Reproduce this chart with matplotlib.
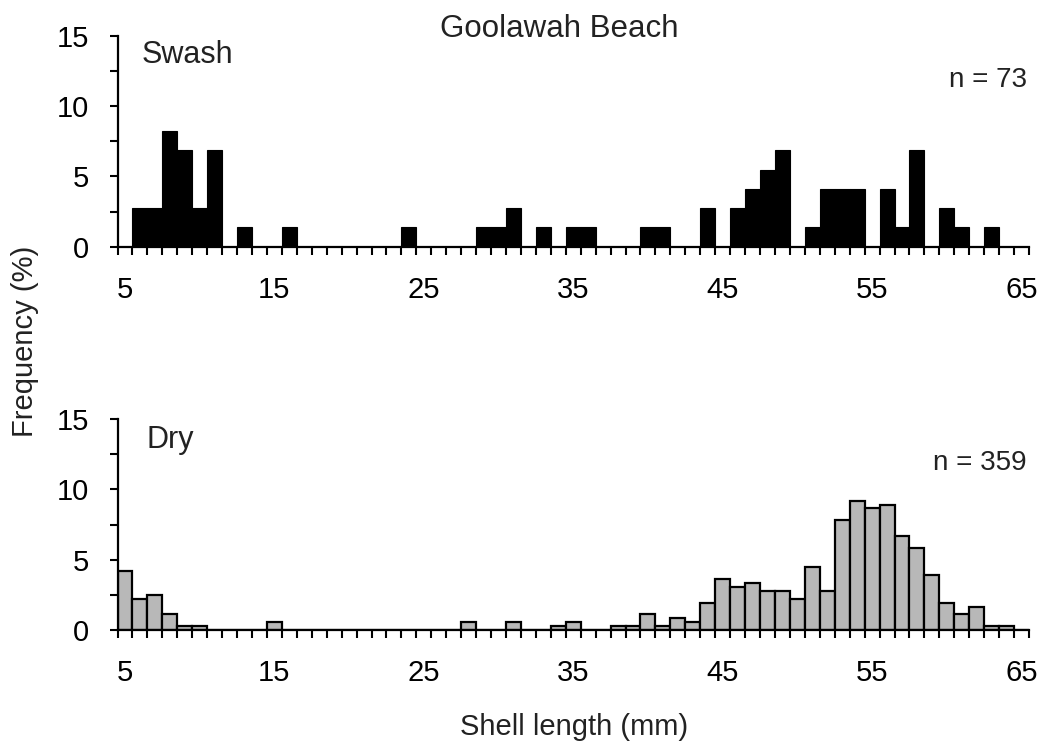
import matplotlib
matplotlib.use("Agg")
import matplotlib.pyplot as plt
from matplotlib.ticker import FixedLocator

plt.rcParams['font.family'] = ['Liberation Sans', 'DejaVu Sans']

# ---- data -------------------------------------------------------------
categories = list(range(5, 66))  # shell length classes (mm)

swash_pct = [
    0, 2.74, 2.74, 8.22, 6.85, 2.74, 6.85, 0, 1.37, 0,       # 5-14
    0, 1.37, 0, 0, 0, 0, 0, 0, 0, 1.37,                     # 15-24
    0, 0, 0, 0, 1.37, 1.37, 2.74, 0, 1.37, 0,               # 25-34
    1.37, 1.37, 0, 0, 0, 1.37, 1.37, 0, 0, 2.74,            # 35-44
    0, 2.74, 4.11, 5.48, 6.85, 0, 1.37, 4.11, 4.11, 4.11,   # 45-54
    0, 4.11, 1.37, 6.85, 0, 2.74, 1.37, 0, 1.37, 0,         # 55-64
    0,                                                      # 65
]

dry_pct = [
    4.18, 2.23, 2.51, 1.11, 0.28, 0.28, 0, 0, 0, 0,         # 5-14
    0.56, 0, 0, 0, 0, 0, 0, 0, 0, 0,                        # 15-24
    0, 0, 0, 0.56, 0, 0, 0.56, 0, 0, 0.28,                  # 25-34
    0.56, 0, 0, 0.28, 0.28, 1.11, 0.28, 0.84, 0.56, 1.95,   # 35-44
    3.62, 3.06, 3.34, 2.79, 2.79, 2.23, 4.46, 2.79, 7.80, 9.19,  # 45-54
    8.64, 8.91, 6.69, 5.85, 3.90, 1.95, 1.11, 1.67, 0.28, 0.28,  # 55-64
    0,                                                      # 65
]

x_labels = [5, 15, 25, 35, 45, 55, 65]
y_major = [0, 5, 10, 15]

title = "Goolawah Beach"
panel_names = ["Swash", "Dry"]
n_labels = ["n = 73", "n = 359"]
ylabel = "Frequency (%)"
xlabel = "Shell length (mm)"

# ---- figure -----------------------------------------------------------
W, H = 1045, 744
fig = plt.figure(figsize=(W / 100, H / 100), dpi=100)

left = 117.5 / W
right = 1029 / W
ax_top = fig.add_axes([left, 1 - 246.7 / H, right - left, (246.7 - 35.6) / H])
ax_bot = fig.add_axes([left, 1 - 630 / H, right - left, (630 - 419) / H])

txt_color = '#222222'

def style(ax):
    ax.set_xlim(categories[0] - 0.5, categories[-1] + 0.5)
    ax.set_ylim(0, 15)
    for s in ['top', 'right']:
        ax.spines[s].set_visible(False)
    for s in ['left', 'bottom']:
        ax.spines[s].set_linewidth(1.6)
        ax.spines[s].set_color('black')
    # x: labels centred on classes, ticks at class boundaries
    ax.xaxis.set_major_locator(FixedLocator(x_labels))
    ax.set_xticklabels([str(v) for v in x_labels])
    ax.xaxis.set_minor_locator(FixedLocator([c - 0.5 for c in categories] + [categories[-1] + 0.5]))
    ax.tick_params(axis='x', which='major', length=0, pad=21, labelsize=21, labelcolor='black')
    ax.tick_params(axis='x', which='minor', length=5.8, width=1.5, direction='out', color='black')
    # y
    ax.yaxis.set_major_locator(FixedLocator(y_major))
    ax.yaxis.set_minor_locator(FixedLocator([2.5, 7.5, 12.5]))
    ax.tick_params(axis='y', which='major', length=5.8, width=1.5, pad=14.5, labelsize=21,
                   labelcolor='black', direction='out')
    ax.tick_params(axis='y', which='minor', length=5.8, width=1.5, direction='out')

ax_top.bar(categories, swash_pct, width=1.0, color='black', edgecolor='black', linewidth=0.8, zorder=2)
ax_bot.bar(categories, dry_pct, width=1.0, color='#b8b8b8', edgecolor='black', linewidth=1.6, zorder=2)

style(ax_top)
style(ax_bot)

def fx(px):
    return px / W

def fy(py):
    return 1 - py / H

fig.text(fx(559), fy(36.7), title, ha='center', va='baseline', fontsize=22.5, color=txt_color)
fig.text(fx(142), fy(63.3), panel_names[0], ha='left', va='baseline', fontsize=22, color=txt_color)
fig.text(fx(1027), fy(86.7), n_labels[0], ha='right', va='baseline', fontsize=20, color=txt_color)
fig.text(fx(146.7), fy(448.3), panel_names[1], ha='left', va='baseline', fontsize=22, color=txt_color)
fig.text(fx(1027), fy(470), n_labels[1], ha='right', va='baseline', fontsize=20, color=txt_color)
fig.text(fx(574), fy(735), xlabel, ha='center', va='baseline', fontsize=21, color=txt_color)
fig.text(fx(25), fy(341), ylabel, ha='center', va='center', rotation=90, fontsize=21,
         color=txt_color, rotation_mode='anchor')

fig.savefig('out.png', dpi=100)
